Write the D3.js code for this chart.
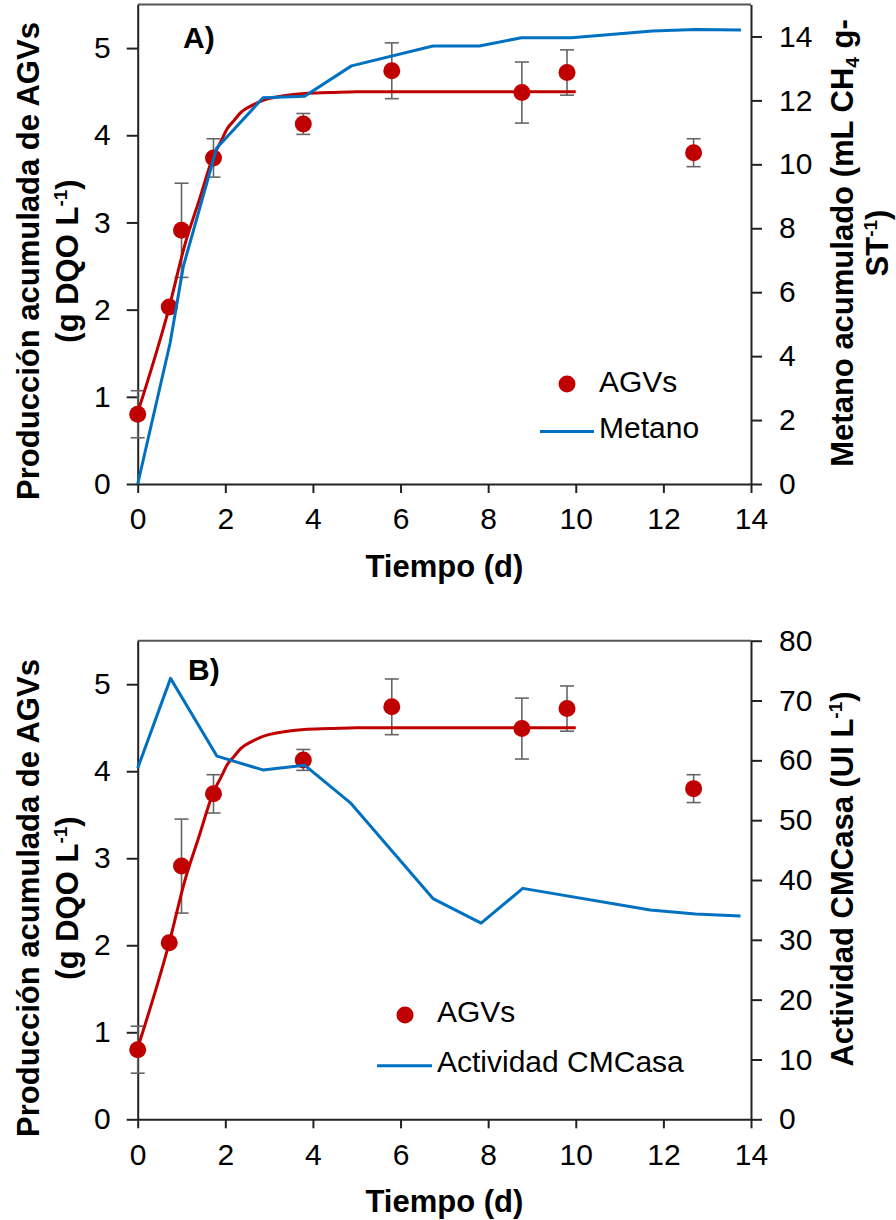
<!DOCTYPE html>
<html>
<head>
<meta charset="utf-8">
<script src="https://cdn.jsdelivr.net/npm/d3@7"></script>
<style>
  body { margin: 0; background: #fff; }
  svg { display: block; }
  text { font-family: "Liberation Sans", Arial, sans-serif; fill: #000; }
</style>
</head>
<body>
<svg id="chart" width="896" height="1220"></svg>
<script>
// ---- axis ticks ----
const timeTicks = [0, 2, 4, 6, 8, 10, 12, 14];
const agvTicks = [0, 1, 2, 3, 4, 5];
const methaneTicks = [0, 2, 4, 6, 8, 10, 12, 14];
const cmcTicks = [0, 10, 20, 30, 40, 50, 60, 70, 80];

// ---- measured AGVs (g DQO/L) with standard deviation ----
const agvTime  = [0, 0.72, 1.0, 1.73, 3.78, 5.8, 8.77, 9.8, 12.69];
const agvValue = [0.80, 2.03, 2.91, 3.74, 4.13, 4.74, 4.49, 4.72, 3.80];
const agvError = [0.27, 0, 0.54, 0.22, 0.12, 0.32, 0.35, 0.26, 0.16];

// ---- fitted AGVs production curve ----
const fitTime  = [0, 0.72, 1.08, 1.4, 1.73, 1.9, 2.05, 2.2, 2.35, 2.6, 2.86, 3.3, 3.8, 4.4, 5, 6, 7, 8, 9, 10];
const fitValue = [0.82, 2.03, 2.75, 3.25, 3.76, 3.93, 4.08, 4.17, 4.26, 4.34, 4.40, 4.45, 4.48, 4.49, 4.5, 4.5, 4.5, 4.5, 4.5, 4.5];

// ---- cumulative methane (mL CH4 / g ST) ----
const methaneTime  = [0, 0.74, 1.04, 1.8, 2.86, 3.81, 4.88, 6.74, 7.8, 8.76, 9.9, 11.75, 12.73, 13.77];
const methaneValue = [0, 4.41, 6.8, 10.5, 12.08, 12.13, 13.08, 13.70, 13.70, 13.96, 13.96, 14.17, 14.22, 14.2];

// ---- CMCase activity (UI/L) ----
const cmcTime  = [0, 0.75, 1.81, 2.86, 3.81, 4.87, 6.74, 7.84, 8.79, 11.7, 12.73, 13.76];
const cmcValue = [58.7, 73.7, 60.7, 58.4, 59.2, 52.8, 36.9, 32.8, 38.6, 35.0, 34.3, 34.0];

const RED = "#C00000";
const BLUE = "#0070C0";
const FS = 30;
const fmt = d3.format("d");

const svg = d3.select("#chart");

const x = d3.scaleLinear().domain([0, 14]).range([137.7, 751]);

function addLabel(g, parts, attrs) {
  const t = g.append("text")
    .attr("transform", attrs.transform)
    .attr("text-anchor", attrs.anchor || "middle")
    .attr("font-size", attrs.size || FS)
    .attr("font-weight", attrs.weight || "normal");
  parts.forEach(p => {
    const s = t.append("tspan").text(p.text);
    if (p.sup) { s.attr("font-size", 19).attr("dy", -11); }
    if (p.sub) { s.attr("font-size", 19).attr("dy", 6); }
    if (p.reset) { s.attr("dy", p.reset); }
  });
  return t;
}

function drawPanel(cfg) {
  const g = svg.append("g");
  const y = d3.scaleLinear().domain([0, 5.5]).range([cfg.bottom, cfg.top]);
  const y2 = d3.scaleLinear().domain(cfg.rightDomain).range([cfg.bottom, cfg.top]);

  // plot frame (top edge)
  g.append("line")
    .attr("x1", x(0)).attr("x2", x(14))
    .attr("y1", cfg.top).attr("y2", cfg.top)
    .attr("stroke", "#555").attr("stroke-width", 2);

  // axes
  const styleAxis = a => {
    a.select(".domain").attr("stroke", "#222").attr("stroke-width", 2);
    a.selectAll(".tick line").attr("stroke", "#222").attr("stroke-width", 2);
    a.selectAll(".tick text").attr("font-size", FS).attr("fill", "#000")
      .attr("font-family", "\"Liberation Sans\", Arial, sans-serif");
  };

  g.append("g")
    .attr("transform", `translate(0,${cfg.bottom})`)
    .call(d3.axisBottom(x).tickValues(timeTicks).tickFormat(fmt).tickSize(9).tickSizeOuter(0).tickPadding(15))
    .call(styleAxis);

  g.append("g")
    .attr("transform", `translate(${x(0)},0)`)
    .call(d3.axisLeft(y).tickValues(agvTicks).tickFormat(fmt).tickSize(11).tickSizeOuter(0).tickPadding(16))
    .call(styleAxis);

  g.append("g")
    .attr("transform", `translate(${x(14)},0)`)
    .call(d3.axisRight(y2).tickValues(cfg.rightTicks).tickFormat(fmt).tickSize(11).tickSizeOuter(0).tickPadding(17))
    .call(styleAxis);

  // error bars
  const pts = agvTime.map((t, i) => ({ t, v: agvValue[i], e: agvError[i] }));
  const eb = g.append("g").attr("stroke", "#666").attr("stroke-width", 1.6);
  pts.filter(d => d.e > 0).forEach(d => {
    const cx = x(d.t);
    eb.append("line").attr("x1", cx).attr("x2", cx).attr("y1", y(d.v - d.e)).attr("y2", y(d.v + d.e));
    [d.v - d.e, d.v + d.e].forEach(v => {
      eb.append("line").attr("x1", cx - 7).attr("x2", cx + 7).attr("y1", y(v)).attr("y2", y(v));
    });
  });

  // fitted curve
  const fit = fitTime.map((t, i) => [t, fitValue[i]]);
  g.append("path")
    .datum(fit)
    .attr("fill", "none").attr("stroke", RED).attr("stroke-width", 3)
    .attr("d", d3.line().x(d => x(d[0])).y(d => y(d[1])).curve(d3.curveMonotoneX));

  // measured points
  g.append("g").selectAll("circle").data(pts).join("circle")
    .attr("cx", d => x(d.t)).attr("cy", d => y(d.v)).attr("r", 8.5)
    .attr("fill", RED);

  // secondary series
  const sec = cfg.secTime.map((t, i) => [t, cfg.secValue[i]]);
  g.append("path")
    .datum(sec)
    .attr("fill", "none").attr("stroke", BLUE).attr("stroke-width", 3)
    .attr("stroke-linejoin", "round")
    .attr("d", d3.line().x(d => x(d[0])).y(d => y2(d[1])));

  // panel tag
  g.append("text").attr("x", cfg.tagX).attr("y", cfg.tagY)
    .attr("font-size", FS).attr("font-weight", "bold").text(cfg.tag);

  // x title
  g.append("text").attr("x", (x(0) + x(14)) / 2).attr("y", cfg.bottom + 93)
    .attr("text-anchor", "middle").attr("font-size", 31).attr("font-weight", "bold")
    .text("Tiempo (d)");

  // left title (two lines)
  addLabel(g, [{ text: "Producción acumulada de AGVs" }],
    { transform: `translate(39,${cfg.leftMid}) rotate(-90)`, weight: "bold", size: 31 });
  addLabel(g, [{ text: "(g DQO L" }, { text: "-1", sup: true }, { text: ")", reset: 11 }],
    { transform: `translate(78,${cfg.leftMid}) rotate(-90)`, weight: "bold", size: 31 });

  // right title
  cfg.rightTitle.forEach(line => {
    addLabel(g, line.parts,
      { transform: `translate(${line.x},${cfg.rightMid}) rotate(-90)`, weight: "bold", size: 31 });
  });

  // legend
  const L = cfg.legend;
  g.append("circle").attr("cx", L.dotX).attr("cy", L.dotY).attr("r", 8.5).attr("fill", RED);
  g.append("text").attr("x", L.textX).attr("y", L.row1).attr("font-size", FS).text("AGVs");
  g.append("line").attr("x1", L.lineX1).attr("x2", L.lineX2)
    .attr("y1", L.lineY).attr("y2", L.lineY)
    .attr("stroke", BLUE).attr("stroke-width", 3);
  g.append("text").attr("x", L.textX).attr("y", L.row2).attr("font-size", FS).text(L.name);
}

drawPanel({
  top: 4.5, bottom: 484,
  rightDomain: [0, 15], rightTicks: methaneTicks,
  secTime: methaneTime, secValue: methaneValue,
  tag: "A)", tagX: 183, tagY: 48,
  leftMid: 261, rightMid: 243,
  rightTitle: [
    { x: 853, parts: [{ text: "Metano acumulado (mL CH" }, { text: "4", sub: true }, { text: " g-", reset: -6 }] },
    { x: 888, parts: [{ text: "ST" }, { text: "-1", sup: true }, { text: ")", reset: 11 }] }
  ],
  legend: { dotX: 567, dotY: 384, textX: 599, row1: 392, lineX1: 540, lineX2: 594, lineY: 431.5, row2: 438, name: "Metano" }
});

drawPanel({
  top: 640.7, bottom: 1119.3,
  rightDomain: [0, 80], rightTicks: cmcTicks,
  secTime: cmcTime, secValue: cmcValue,
  tag: "B)", tagX: 188, tagY: 680,
  leftMid: 898, rightMid: 879,
  rightTitle: [
    { x: 853, parts: [{ text: "Actividad CMCasa (UI L" }, { text: "-1", sup: true }, { text: ")", reset: 11 }] }
  ],
  legend: { dotX: 405, dotY: 1015, textX: 437, row1: 1022, lineX1: 377, lineX2: 432, lineY: 1065.7, row2: 1072, name: "Actividad CMCasa" }
});
</script>
</body>
</html>
